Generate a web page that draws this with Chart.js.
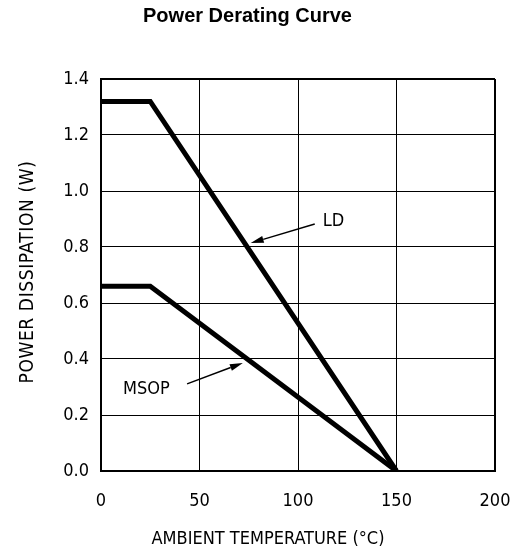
<!DOCTYPE html>
<html>
<head>
<meta charset="utf-8">
<script src="https://cdn.jsdelivr.net/npm/chart.js@4/dist/chart.umd.min.js"></script>
<style>
    html, body { margin: 0; padding: 0; background: #fff; }
    #wrap { width: 521px; height: 559px; }
</style>
</head>
<body>
<div id="wrap"><canvas id="derating"></canvas></div>
<script>
// data
const temps = [0, 25, 150];
const ldPower = [1.32, 1.32, 0];
const msopPower = [0.66, 0.66, 0];
const xTicks = [0, 50, 100, 150, 200];
const yTicks = [0, 0.2, 0.4, 0.6, 0.8, 1.0, 1.2, 1.4];
const xTitle = "AMBIENT TEMPERATURE (°C)";
const yTitle = "POWER DISSIPATION (W)";

// callouts: label, text anchor, arrow start, arrow tip (data units)
const callouts = [
    { text: "LD", at: [112.5, 0.893], from: [108.5, 0.882], to: [76, 0.814] },
    { text: "MSOP", at: [11.2, 0.29], from: [43.7, 0.311], to: [72, 0.386] }
];

const plotFont = "'DejaVu Sans Condensed', 'Liberation Sans Narrow', 'DejaVu Sans', sans-serif";

function toPoints(xs, ys) {
    return xs.map((x, i) => ({ x: x, y: ys[i] }));
}

// Arrows, labels and axis titles
const calloutPlugin = {
    id: "callouts",
    afterDraw(chart) {
        const ctx = chart.ctx;
        const xs = chart.scales.x, ys = chart.scales.y;
        ctx.save();
        ctx.strokeStyle = "#000";
        ctx.fillStyle = "#000";
        ctx.lineWidth = 1.5;
        ctx.font = "18px " + plotFont;
        ctx.textBaseline = "middle";
        ctx.textAlign = "left";
        callouts.forEach(c => {
            ctx.fillText(c.text, xs.getPixelForValue(c.at[0]), ys.getPixelForValue(c.at[1]));
            const x1 = xs.getPixelForValue(c.from[0]), y1 = ys.getPixelForValue(c.from[1]);
            const x2 = xs.getPixelForValue(c.to[0]), y2 = ys.getPixelForValue(c.to[1]);
            const ang = Math.atan2(y2 - y1, x2 - x1);
            const len = 13, half = 3.5;
            const bx = x2 - len * Math.cos(ang), by = y2 - len * Math.sin(ang);
            ctx.beginPath();
            ctx.moveTo(x1, y1);
            ctx.lineTo(bx, by);
            ctx.stroke();
            ctx.beginPath();
            ctx.moveTo(x2, y2);
            ctx.lineTo(bx + half * Math.sin(ang), by - half * Math.cos(ang));
            ctx.lineTo(bx - half * Math.sin(ang), by + half * Math.cos(ang));
            ctx.closePath();
            ctx.fill();
        });

        // axis titles (the original sits them a little off the plot centre)
        ctx.textAlign = "center";
        ctx.font = "18px " + plotFont;
        ctx.fillText(xTitle, 268, 539);
        ctx.font = "19px " + plotFont;
        ctx.letterSpacing = "0.6px";
        ctx.translate(28, 272);
        ctx.rotate(-Math.PI / 2);
        ctx.fillText(yTitle, 0, 0);
        ctx.restore();
    }
};

new Chart(document.getElementById("derating"), {
    type: "line",
    data: {
        datasets: [
            { label: "LD", data: toPoints(temps, ldPower) },
            { label: "MSOP", data: toPoints(temps, msopPower) }
        ]
    },
    options: {
        responsive: true,
        maintainAspectRatio: false,
        animation: false,
        layout: { padding: { left: 0, right: 26, top: 0, bottom: 0 } },
        elements: {
            line: { borderColor: "#000", borderWidth: 5, tension: 0, borderJoinStyle: "miter", borderCapStyle: "butt" },
            point: { radius: 0, hoverRadius: 0 }
        },
        plugins: {
            legend: { display: false },
            tooltip: { enabled: false },
            title: {
                display: true,
                text: "Power Derating Curve",
                color: "#000",
                font: { family: "'Liberation Sans', Arial, sans-serif", size: 20, weight: "bold" },
                padding: { top: 4, bottom: 51 }
            }
        },
        scales: {
            x: {
                type: "linear",
                min: 0, max: 200,
                afterBuildTicks: s => { s.ticks = xTicks.map(v => ({ value: v })); },
                afterFit: s => { s.height = 88; s.paddingLeft = 0; s.paddingRight = 0; },
                grid: { color: "#000", lineWidth: c => (c.index === 0 || c.index === xTicks.length - 1) ? 2 : 1, drawTicks: false },
                border: { color: "#000", width: 2 },
                ticks: { color: "#000", font: { family: plotFont, size: 18 }, padding: 20, maxRotation: 0 }
            },
            y: {
                min: 0, max: 1.4,
                afterBuildTicks: s => { s.ticks = yTicks.map(v => ({ value: v })); },
                afterFit: s => { s.width = 101; },
                grid: { color: "#000", lineWidth: c => (c.index === 0 || c.index === yTicks.length - 1) ? 2 : 1, drawTicks: false },
                border: { color: "#000", width: 2 },
                ticks: { color: "#000", font: { family: plotFont, size: 18 }, padding: 12, callback: v => v.toFixed(1) }
            }
        }
    },
    plugins: [calloutPlugin]
});
</script>
</body>
</html>
